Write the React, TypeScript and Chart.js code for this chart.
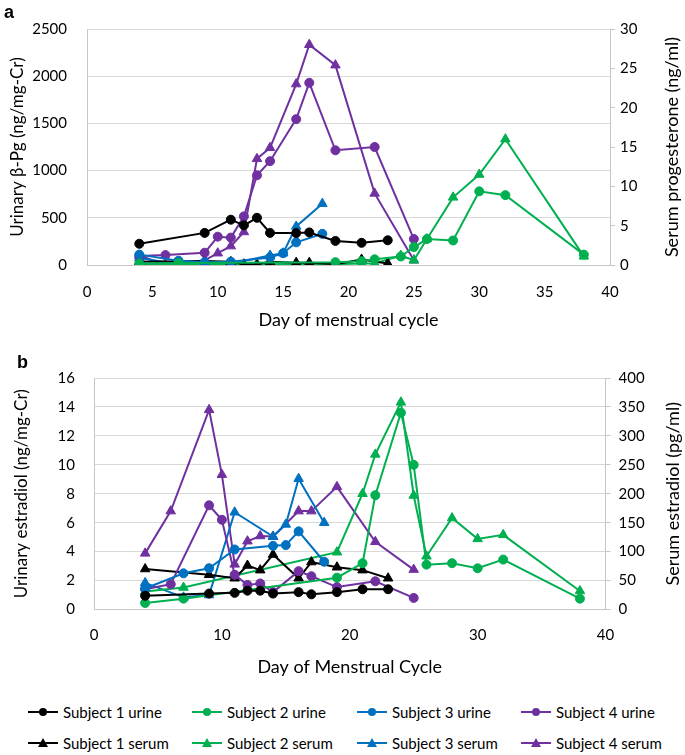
import React, { useEffect, useRef } from "react";
import { Chart, registerables } from "chart.js";

Chart.register(...registerables);

// ---------- Data ----------
const S1_DAYS = [4, 9, 11, 12, 13, 14, 16, 17, 19, 21, 23];
const S2_DAYS = [4, 7, 19, 21, 22, 24, 25, 26, 28, 30, 32, 38];
const S3_DAYS = [4, 7, 9, 11, 14, 15, 16, 18];
const S4_DAYS = [4, 6, 9, 10, 11, 12, 13, 14, 16, 17, 19, 22, 25];

// Panel a: urinary beta-Pg (ng/mg-Cr) and serum progesterone (ng/ml)
const A_S1_URINE = [225, 340, 480, 420, 500, 340, 338, 345, 255, 235, 262];
const A_S1_SERUM = [0.4, 0.5, 0.4, 0.1, 0.1, 0.4, 0.3, 0.3, 0.1, 0.7, 0.2];
const A_S2_URINE = [15, 20, 30, 40, 60, 90, 190, 275, 260, 780, 740, 110];
const A_S2_SERUM = [0.1, 0.1, 0.1, 0.2, 0.2, 1.2, 0.6, 3.3, 8.6, 11.5, 16.0, 1.1];
const A_S3_URINE = [110, 45, 30, 35, 80, 125, 240, 330];
const A_S3_SERUM = [0.9, 0.1, 0.0, 0.2, 1.2, 1.5, 4.9, 7.8];
const A_S4_URINE = [95, 105, 130, 300, 290, 515, 950, 1100, 1545, 1930, 1215, 1250, 275];
const A_S4_SERUM = [1.2, 0.0, 0.6, 1.5, 2.4, 4.2, 13.5, 14.9, 23.0, 28.0, 25.4, 9.1, 0.6];

// Panel b: urinary estradiol (ng/mg-Cr) and serum estradiol (pg/ml)
const B_S1_URINE = [0.95, 1.1, 1.15, 1.3, 1.3, 1.1, 1.2, 1.05, 1.2, 1.4, 1.4];
const B_S1_SERUM = [70, 60, 54, 76, 68, 95, 54, 82, 73, 68, 54];
const B_S2_URINE = [0.45, 0.75, 2.2, 3.2, 7.9, 13.6, 10.0, 3.1, 3.2, 2.85, 3.45, 0.75];
const B_S2_SERUM = [31, 38, 99, 200, 268, 358, 197, 92, 158, 122, 129, 32];
const B_S3_URINE = [1.45, 2.5, 2.85, 4.15, 4.4, 4.45, 5.4, 3.3];
const B_S3_SERUM = [46, 21, 25, 168, 126, 147, 226, 150];
const B_S4_URINE = [1.4, 1.75, 7.2, 6.2, 2.4, 1.7, 1.8, 1.2, 2.65, 2.3, 1.55, 1.95, 0.8];
const B_S4_SERUM = [97, 170, 345, 233, 78, 118, 127, 126, 170, 170, 212, 117, 69];

const SUBJECTS = ["Subject 1", "Subject 2", "Subject 3", "Subject 4"];
const COLORS = ["#000000", "#00B050", "#0070C0", "#7030A0"];
const DAYS = [S1_DAYS, S2_DAYS, S3_DAYS, S4_DAYS];

const A_URINE = [A_S1_URINE, A_S2_URINE, A_S3_URINE, A_S4_URINE];
const A_SERUM = [A_S1_SERUM, A_S2_SERUM, A_S3_SERUM, A_S4_SERUM];
const B_URINE = [B_S1_URINE, B_S2_URINE, B_S3_URINE, B_S4_URINE];
const B_SERUM = [B_S1_SERUM, B_S2_SERUM, B_S3_SERUM, B_S4_SERUM];

const FONT = "Lato";
const GRID = "#d9d9d9";
const AXIS = "#c6c6c6";

type Spec = {
  top: number;
  h: number;
  areaTop: number;
  areaLeft: number;
  areaRight: number;
  areaBottom: number;
  yMax: number;
  yStep: number;
  y1Max: number;
  y1Step: number;
  xStep: number;
  yTitle: string;
  y1Title: string;
  xTitle: string;
  xTickPad: number;
  xTitlePad: number;
  yTickPad: number;
  yTitlePad: number;
  y1TickPad: number;
  y1TitleX: number;
  urine: number[][];
  serum: number[][];
};

const PANEL_A: Spec = {
  top: 0,
  h: 340,
  areaTop: 13,
  areaLeft: 87,
  areaRight: 610,
  areaBottom: 265,
  yMax: 2500,
  yStep: 500,
  y1Max: 30,
  y1Step: 5,
  xStep: 5,
  yTitle: "Urinary β-Pg (ng/mg-Cr)",
  y1Title: "Serum progesterone (ng/ml)",
  xTitle: "Day of menstrual cycle",
  xTickPad: 18,
  xTitlePad: 9,
  yTickPad: 20,
  yTitlePad: 7,
  y1TickPad: 5,
  y1TitleX: 672,
  urine: A_URINE,
  serum: A_SERUM,
};

const PANEL_B: Spec = {
  top: 350,
  h: 330,
  areaTop: 15.5,
  areaLeft: 94,
  areaRight: 605.5,
  areaBottom: 259.5,
  yMax: 16,
  yStep: 2,
  y1Max: 400,
  y1Step: 50,
  xStep: 10,
  yTitle: "Urinary estradiol (ng/mg-Cr)",
  y1Title: "Serum estradiol (pg/ml)",
  xTitle: "Day of Menstrual Cycle",
  xTickPad: 16.5,
  xTitlePad: 2,
  yTickPad: 19,
  yTitlePad: 11,
  y1TickPad: 8,
  y1TitleX: 673,
  urine: B_URINE,
  serum: B_SERUM,
};

function makeDataset(label: string, days: number[], vals: number[], color: string, style: string, axis: string) {
  return {
    label,
    data: days.map((d, i) => ({ x: d, y: vals[i] })),
    yAxisID: axis,
    borderColor: color,
    backgroundColor: color,
    borderWidth: 2,
    pointStyle: style,
    pointRadius: style === "circle" ? 4.5 : 5.5,
    pointBorderWidth: 1,
    showLine: true,
    tension: 0,
  };
}

const plain = (v: any) => String(v);

function PanelChart({ spec }: { spec: Spec }) {
  const ref = useRef<HTMLCanvasElement>(null);
  useEffect(() => {
    if (!ref.current) return;
    const datasets: any[] = [];
    for (let i = 0; i < 4; i++) {
      datasets.push(makeDataset(SUBJECTS[i] + " urine", DAYS[i], spec.urine[i], COLORS[i], "circle", "y"));
    }
    for (let i = 0; i < 4; i++) {
      datasets.push(makeDataset(SUBJECTS[i] + " serum", DAYS[i], spec.serum[i], COLORS[i], "triangle", "y1"));
    }
    const rightTitle = {
      id: "rightTitle",
      afterDraw(chart: any) {
        const s = chart.scales.y1;
        const ctx = chart.ctx;
        ctx.save();
        ctx.font = `18px ${FONT}`;
        ctx.fillStyle = "#000";
        ctx.textAlign = "center";
        ctx.textBaseline = "middle";
        ctx.translate(spec.y1TitleX, (s.top + s.bottom) / 2);
        ctx.rotate(-Math.PI / 2);
        ctx.fillText(spec.y1Title, 0, 0);
        ctx.restore();
      },
    };
    const tickFont = { family: FONT, size: 15 };
    const chart = new Chart(ref.current, {
      type: "scatter",
      data: { datasets },
      plugins: [rightTitle],
      options: {
        responsive: false,
        animation: false,
        layout: { padding: { top: spec.areaTop, left: 0, right: 0, bottom: 0 } },
        plugins: { legend: { display: false }, tooltip: { enabled: false } },
        scales: {
          x: {
            type: "linear",
            position: "bottom",
            min: 0,
            max: 40,
            ticks: { stepSize: spec.xStep, font: tickFont, color: "#000", padding: spec.xTickPad, maxRotation: 0, callback: plain },
            grid: { display: false, drawTicks: false },
            border: { display: true, color: AXIS, width: 1 },
            title: {
              display: true,
              text: spec.xTitle,
              font: { family: FONT, size: 18 },
              color: "#000",
              padding: { top: 0, bottom: spec.xTitlePad },
            },
            afterFit: (s: any) => {
              s.height = spec.h - spec.areaBottom;
            },
          },
          y: {
            type: "linear",
            position: "left",
            min: 0,
            max: spec.yMax,
            ticks: { stepSize: spec.yStep, font: tickFont, color: "#000", padding: spec.yTickPad, callback: plain },
            grid: { color: GRID, lineWidth: 1, drawTicks: false },
            border: { display: true, color: AXIS, width: 1 },
            title: {
              display: true,
              text: spec.yTitle,
              font: { family: FONT, size: 17 },
              color: "#000",
              padding: { top: spec.yTitlePad, bottom: 0 },
            },
            afterFit: (s: any) => {
              s.width = spec.areaLeft;
            },
          },
          y1: {
            type: "linear",
            position: "right",
            min: 0,
            max: spec.y1Max,
            ticks: { stepSize: spec.y1Step, font: tickFont, color: "#000", padding: spec.y1TickPad, callback: plain },
            grid: { drawOnChartArea: false, drawTicks: true, tickLength: 5, color: AXIS },
            border: { display: true, color: AXIS, width: 1 },
            title: { display: false },
            afterFit: (s: any) => {
              s.width = 685 - spec.areaRight;
            },
          },
        },
      } as any,
    });
    return () => chart.destroy();
  }, [spec]);
  return (
    <canvas
      ref={ref}
      width={685}
      height={spec.h}
      style={{ position: "absolute", left: 0, top: spec.top, width: 685, height: spec.h }}
    />
  );
}

function LegendItem({ x, y, color, label, marker }: { x: number; y: number; color: string; label: string; marker: string }) {
  return (
    <div style={{ position: "absolute", left: x, top: y - 10, height: 20, width: 165 }}>
      <div style={{ position: "absolute", left: 0, top: 9, width: 30, height: 2, background: color }} />
      {marker === "circle" ? (
        <div style={{ position: "absolute", left: 11, top: 6, width: 8, height: 8, borderRadius: "50%", background: color }} />
      ) : (
        <div
          style={{
            position: "absolute",
            left: 10,
            top: 5,
            width: 0,
            height: 0,
            borderLeft: "5px solid transparent",
            borderRight: "5px solid transparent",
            borderBottom: `9px solid ${color}`,
          }}
        />
      )}
      <div
        style={{
          position: "absolute",
          left: 35,
          top: 0,
          height: 20,
          lineHeight: "20px",
          fontFamily: FONT,
          fontSize: 15,
          color: "#000",
          whiteSpace: "nowrap",
        }}
      >
        {label}
      </div>
    </div>
  );
}

const LEGEND_X = [28, 192, 357, 521];
const LEGEND_Y = [712, 743];

export default function App() {
  return (
    <div style={{ position: "absolute", left: 0, top: 0, width: 685, height: 755, background: "#fff", overflow: "hidden" }}>
      <PanelChart spec={PANEL_A} />
      <PanelChart spec={PANEL_B} />
      <div style={{ position: "absolute", left: 4, top: 2, fontFamily: "Liberation Sans", fontWeight: "bold", fontSize: 18 }}>a</div>
      <div style={{ position: "absolute", left: 17, top: 352, fontFamily: "Liberation Sans", fontWeight: "bold", fontSize: 18 }}>b</div>
      {SUBJECTS.map((s, i) => (
        <LegendItem key={"u" + i} x={LEGEND_X[i]} y={LEGEND_Y[0]} color={COLORS[i]} label={s + " urine"} marker="circle" />
      ))}
      {SUBJECTS.map((s, i) => (
        <LegendItem key={"s" + i} x={LEGEND_X[i]} y={LEGEND_Y[1]} color={COLORS[i]} label={s + " serum"} marker="triangle" />
      ))}
    </div>
  );
}
